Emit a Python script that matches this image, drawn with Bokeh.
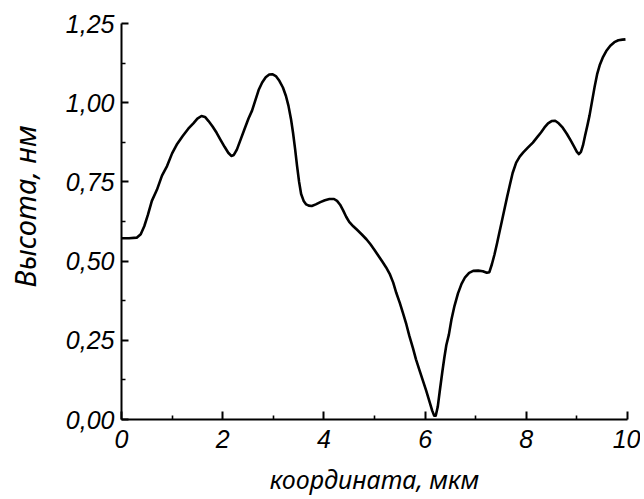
from bokeh.plotting import figure
from bokeh.models import Range1d, FixedTicker
from bokeh.embed import file_html
from bokeh.resources import INLINE

# Profile data (x in мкм, height in нм)
x_um = [0.00, 0.15, 0.30, 0.38, 0.45, 0.52, 0.60, 0.70, 0.80, 0.90, 1.00, 1.10, 1.21, 1.32, 1.42,
        1.50, 1.58, 1.65, 1.72, 1.80, 1.88, 1.96, 2.04, 2.11, 2.17, 2.22, 2.28, 2.35, 2.43, 2.51,
        2.58, 2.64, 2.71, 2.78, 2.85, 2.92, 2.98, 3.05, 3.12, 3.19, 3.25, 3.30, 3.35, 3.39, 3.43,
        3.47, 3.51, 3.55, 3.60, 3.65, 3.70, 3.76, 3.84, 3.93, 4.02, 4.11, 4.20, 4.26, 4.32, 4.38,
        4.44, 4.50, 4.58, 4.66, 4.75, 4.84, 4.92, 5.00, 5.08, 5.16, 5.23, 5.30, 5.37, 5.43, 5.50,
        5.56, 5.63, 5.69, 5.76, 5.82, 5.89, 5.95, 6.02, 6.09, 6.14, 6.18, 6.21, 6.25, 6.29, 6.34,
        6.38, 6.42, 6.47, 6.52, 6.58, 6.65, 6.72, 6.79, 6.87, 6.95, 7.05, 7.14, 7.22, 7.27, 7.32,
        7.37, 7.42, 7.47, 7.52, 7.57, 7.62, 7.67, 7.73, 7.80, 7.87, 7.94, 8.03, 8.13, 8.22, 8.29,
        8.36, 8.43, 8.50, 8.57, 8.64, 8.72, 8.80, 8.88, 8.95, 9.00, 9.04, 9.08, 9.12, 9.16, 9.21,
        9.25, 9.30, 9.35, 9.40, 9.45, 9.51, 9.58, 9.66, 9.74, 9.82, 9.90, 9.96]
height_nm = [0.572, 0.572, 0.574, 0.585, 0.610, 0.645, 0.690, 0.725, 0.770, 0.800, 0.840, 0.870, 0.895, 0.918, 0.935,
             0.950, 0.958, 0.955, 0.942, 0.925, 0.905, 0.882, 0.860, 0.842, 0.832, 0.835, 0.852, 0.882, 0.916, 0.950,
             0.975, 1.005, 1.040, 1.064, 1.080, 1.089, 1.090, 1.084, 1.069, 1.048, 1.021, 0.990, 0.948, 0.905, 0.855,
             0.800, 0.750, 0.712, 0.690, 0.679, 0.675, 0.674, 0.679, 0.686, 0.692, 0.696, 0.696, 0.690, 0.678, 0.660,
             0.640, 0.624, 0.610, 0.598, 0.584, 0.569, 0.553, 0.535, 0.516, 0.497, 0.480, 0.460, 0.432, 0.400, 0.368,
             0.337, 0.300, 0.263, 0.225, 0.190, 0.155, 0.126, 0.092, 0.055, 0.028, 0.012, 0.012, 0.040, 0.090, 0.150,
             0.195, 0.235, 0.268, 0.315, 0.358, 0.398, 0.428, 0.449, 0.463, 0.469, 0.470, 0.468, 0.463, 0.465, 0.490,
             0.520, 0.555, 0.592, 0.628, 0.665, 0.702, 0.737, 0.778, 0.811, 0.830, 0.843, 0.858, 0.874, 0.892, 0.906,
             0.922, 0.935, 0.942, 0.943, 0.935, 0.921, 0.902, 0.880, 0.860, 0.845, 0.838, 0.845, 0.865, 0.895, 0.930,
             0.960, 1.005, 1.050, 1.090, 1.118, 1.142, 1.163, 1.180, 1.191, 1.197, 1.199, 1.200]

x_ticks = [0, 2, 4, 6, 8, 10]
x_minor = [1, 3, 5, 7, 9]
x_tick_labels = ["0", "2", "4", "6", "8", "10"]
y_ticks = [0.0, 0.25, 0.5, 0.75, 1.0, 1.25]
y_minor = [0.125, 0.375, 0.625, 0.875, 1.125]
y_tick_labels = ["0,00", "0,25", "0,50", "0,75", "1,00", "1,25"]

x_title = "координата, мкм"
y_title = "Высота, нм"

TICK_FONT = "Liberation Sans"
TITLE_FONT = "Noto Sans"

p = figure(width=640, height=499, output_backend="svg", toolbar_location=None,
           x_range=Range1d(0, 10), y_range=Range1d(0, 1.25),
           min_border_left=121, min_border_right=13, min_border_top=23, min_border_bottom=80)
p.grid.visible = False
p.outline_line_color = None
p.background_fill_color = "white"
p.border_fill_color = "white"

p.line(x_um, height_nm, line_color="black", line_width=2.6, line_join="round")

for ax, ticks, minor, labels in ((p.xaxis[0], x_ticks, x_minor, x_tick_labels),
                                 (p.yaxis[0], y_ticks, y_minor, y_tick_labels)):
    ax.ticker = FixedTicker(ticks=ticks, minor_ticks=minor)
    ax.major_label_overrides = {t: l for t, l in zip(ticks, labels)}
    ax.axis_line_width = 2
    ax.major_tick_line_width = 2
    ax.minor_tick_line_width = 1.6
    ax.major_tick_out = 0
    ax.minor_tick_out = 0
    ax.minor_tick_in = 4
    ax.major_label_text_font = TICK_FONT
    ax.major_label_text_font_style = "italic"
    ax.major_label_text_font_size = "25px"
    ax.major_label_text_color = "black"
    ax.axis_label_text_font = TITLE_FONT
    ax.axis_label_text_font_style = "italic"
    ax.axis_label_text_color = "black"

p.xaxis[0].major_tick_in = 8
p.yaxis[0].major_tick_in = 7
p.xaxis[0].major_label_standoff = 10
p.yaxis[0].major_label_standoff = 7

p.xaxis[0].axis_label = x_title
p.xaxis[0].axis_label_text_font_size = "25px"
p.xaxis[0].axis_label_standoff = 11

# leading no-break spaces lift the centred title to where the reference has it
p.yaxis[0].axis_label = "\u00a0\u00a0\u00a0\u00a0" + y_title
p.yaxis[0].axis_label_text_font_size = "29px"
p.yaxis[0].axis_label_standoff = 19

open("out.html", "w").write(file_html(p, INLINE))
